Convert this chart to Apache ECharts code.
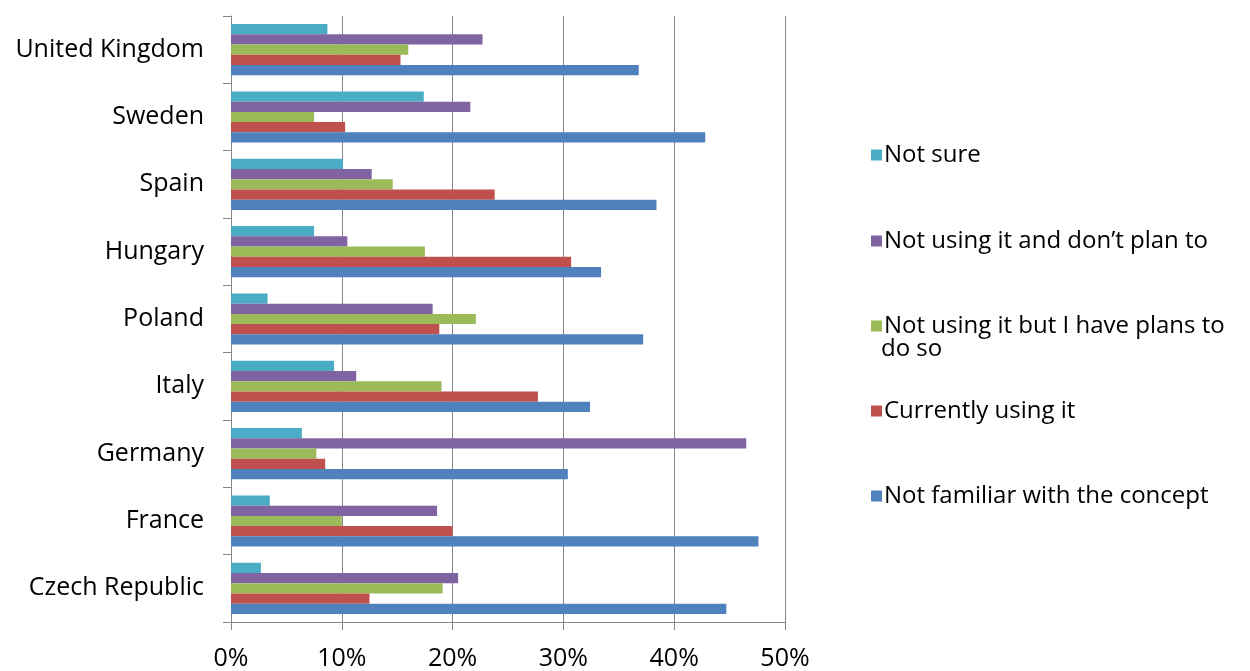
<!DOCTYPE html>
<html>
<head>
<meta charset="utf-8">
<script src="https://cdn.jsdelivr.net/npm/echarts@6/dist/echarts.min.js"></script>
<style>
  html, body { margin: 0; padding: 0; background: #ffffff; }
  #chart { width: 1250px; height: 671px; }
</style>
</head>
<body>
<div id="chart"></div>
<script>
// Countries, listed from the bottom of the chart to the top
const countries = ['Czech Republic', 'France', 'Germany', 'Italy', 'Poland', 'Hungary', 'Spain', 'Sweden', 'United Kingdom'];

// Share of respondents (%) per answer, same country order
const notSure     = [2.7, 3.5, 6.4, 9.3, 3.3, 7.5, 10.1, 17.4, 8.7];
const noPlans     = [20.5, 18.6, 46.5, 11.3, 18.2, 10.5, 12.7, 21.6, 22.7];
const hasPlans    = [19.1, 10.0, 7.7, 19.0, 22.1, 17.5, 14.6, 7.5, 16.0];
const usingNow    = [12.5, 20.0, 8.5, 27.7, 18.8, 30.7, 23.8, 10.3, 15.3];
const notFamiliar = [44.7, 47.6, 30.4, 32.4, 37.2, 33.4, 38.4, 42.8, 36.8];

const answerNames = [
  'Not sure',
  'Not using it and don\u2019t plan to',
  'Not using it but I have plans to do so',
  'Currently using it',
  'Not familiar with the concept'
];
const answerValues = [notSure, noPlans, hasPlans, usingNow, notFamiliar];
const answerColors = ['#4BACC6', '#8064A2', '#9BBB59', '#C0504D', '#4F81BD'];

// Axis tick labels (percent)
const xTicks = [0, 10, 20, 30, 40, 50];

const FONT = '"Open Sans", "Liberation Sans", sans-serif';
const TEXT = '#000000';
const LINE = '#878787';

// Vertical centre of each legend row
const legendRows = [151, 237, 322, 407, 492];

const chart = echarts.init(document.getElementById('chart'), null, { renderer: 'canvas' });

const series = answerNames.map((name, i) => ({
  name: name,
  type: 'bar',
  data: answerValues[i],
  itemStyle: { color: answerColors[i] },
  barGap: '0%',
  barCategoryGap: '24%',
  emphasis: { disabled: true }
}));

const legends = answerNames.map((name, i) => ({
  data: [name],
  left: 866,
  top: legendRows[i] - 13,
  icon: 'rect',
  itemWidth: 11,
  itemHeight: 11,
  itemGap: 4,
  selectedMode: false,
  formatter: n => n === answerNames[2] ? 'Not using it but I have plans to' : n,
  textStyle: { fontFamily: FONT, fontSize: 24, color: TEXT, padding: [0, 0, 0, -3] }
}));

chart.setOption({
  animation: false,
  backgroundColor: '#ffffff',
  color: answerColors,
  grid: { left: 231, right: 465, top: 16, bottom: 48, containLabel: false },
  legend: legends,
  xAxis: {
    type: 'value',
    min: xTicks[0],
    max: xTicks[xTicks.length - 1],
    interval: 10,
    axisLine: { show: true, lineStyle: { color: LINE, width: 1 } },
    axisTick: { show: true, length: 8, lineStyle: { color: LINE } },
    splitLine: { show: true, lineStyle: { color: LINE, width: 1 } },
    axisLabel: {
      formatter: '{value}%',
      margin: 24,
      color: TEXT,
      fontFamily: FONT,
      fontSize: 25
    }
  },
  yAxis: {
    type: 'category',
    data: countries,
    boundaryGap: true,
    axisLine: { show: true, lineStyle: { color: LINE, width: 1 } },
    axisTick: { show: true, length: 8, alignWithLabel: false, lineStyle: { color: LINE } },
    axisLabel: {
      margin: 27,
      color: TEXT,
      fontFamily: FONT,
      fontSize: 25
    }
  },
  graphic: [{
    type: 'text',
    left: 881,
    top: 337,
    style: { text: 'do so', fontFamily: FONT, fontSize: 24, fill: TEXT }
  }],
  series: series
});
</script>
</body>
</html>
